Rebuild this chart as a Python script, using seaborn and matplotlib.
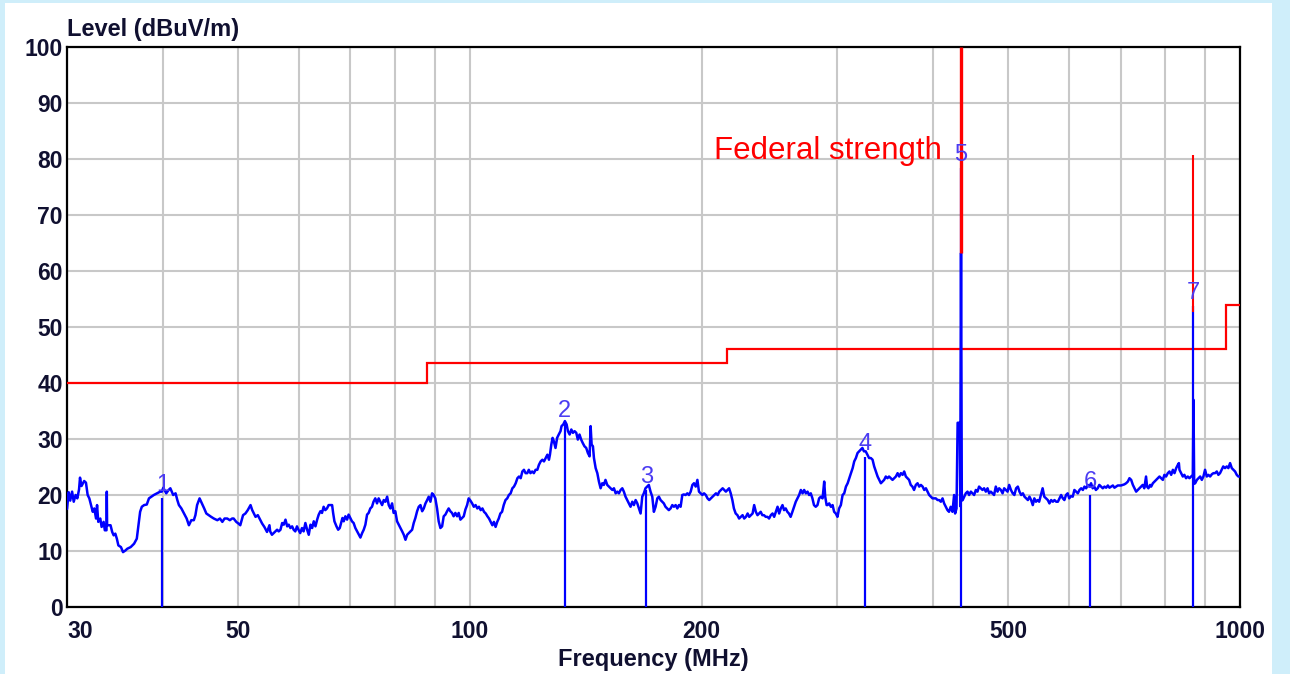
import matplotlib
matplotlib.use("Agg")
import matplotlib.pyplot as plt
import matplotlib.ticker as mticker
from matplotlib.patches import Rectangle
import seaborn as sns
import pandas as pd

# ---- data ----
trace_freq = [
    30.0, 30.15, 30.29, 30.46, 30.61, 30.78, 30.94, 31.10, 31.19, 31.33, 31.58, 31.75, 31.91, 32.07,
    32.23, 32.40, 32.55, 32.72, 32.82, 32.94, 33.14, 33.27, 33.47, 33.59, 33.76, 33.79, 33.82, 33.91,
    34.17, 34.34, 34.49, 34.66, 34.82, 34.98, 35.25, 35.47, 35.73, 35.92, 36.29, 36.66, 36.96, 37.15,
    37.33, 37.52, 37.78, 38.08, 38.33, 38.60, 38.89, 39.27, 39.64, 39.83, 40.01, 40.36, 40.65, 40.86,
    41.21, 41.50, 41.72, 41.92, 42.23, 42.56, 42.90, 43.19, 43.50, 43.83, 44.04, 44.26, 44.59, 44.90,
    45.21, 45.50, 45.82, 46.16, 46.53, 47.02, 47.39, 47.73, 48.05, 48.44, 48.81, 49.15, 49.37, 49.76,
    50.09, 50.36, 50.78, 51.14, 51.50, 51.93, 52.19, 52.44, 52.71, 53.07, 53.49, 53.76, 54.12, 54.55,
    54.95, 55.07, 55.36, 55.64, 55.93, 56.22, 56.49, 56.79, 57.08, 57.35, 57.65, 57.94, 58.21, 58.50,
    58.80, 59.07, 59.36, 59.66, 59.93, 60.24, 60.56, 60.86, 61.18, 61.50, 61.80, 62.12, 62.43, 62.73,
    63.05, 63.37, 63.67, 63.99, 64.30, 64.61, 64.93, 65.26, 65.58, 65.93, 66.27, 66.47, 66.73, 67.14,
    67.48, 67.80, 68.08, 68.35, 68.61, 68.95, 69.30, 69.62, 69.96, 70.32, 70.67, 71.04, 71.41, 71.76,
    72.12, 72.49, 72.84, 73.20, 73.57, 73.92, 74.29, 74.66, 75.00, 75.40, 75.79, 76.16, 76.56, 76.95,
    77.33, 77.72, 78.12, 78.49, 78.88, 79.28, 79.65, 80.05, 80.47, 80.87, 81.29, 81.71, 82.10, 82.52,
    82.94, 83.34, 83.76, 84.18, 84.58, 85.00, 85.44, 85.86, 86.30, 86.74, 87.16, 87.60, 88.05, 88.46,
    88.91, 89.35, 89.77, 90.22, 90.69, 91.13, 91.60, 92.07, 92.51, 92.98, 93.45, 93.89, 94.36, 94.83,
    95.29, 95.79, 96.29, 96.75, 97.25, 97.75, 98.22, 98.71, 99.21, 99.68, 100.19, 100.72, 101.22,
    101.76, 102.29, 102.79, 103.32, 103.86, 104.36, 104.89, 105.42, 105.93, 106.46, 106.99, 107.49,
    108.03, 108.56, 109.06, 109.59, 110.14, 110.69, 111.28, 111.86, 112.41, 113.00, 113.59, 114.14,
    114.72, 115.31, 115.86, 116.45, 117.03, 117.59, 118.17, 118.76, 119.31, 119.90, 120.52, 121.12,
    121.75, 122.39, 122.98, 123.62, 124.25, 124.85, 125.48, 126.12, 126.72, 127.09, 127.61, 128.10,
    128.58, 129.22, 129.85, 130.48, 131.17, 131.57, 132.26, 132.90, 133.59, 134.11, 134.80, 135.48,
    136.13, 136.81, 137.50, 138.14, 138.83, 139.52, 140.17, 140.91, 141.65, 142.35, 143.09, 143.52,
    143.96, 144.52, 144.96, 145.70, 146.43, 147.13, 147.87, 148.61, 149.30, 150.05, 150.83, 151.57,
    152.36, 153.15, 153.89, 154.68, 155.46, 156.20, 156.99, 157.78, 158.52, 159.31, 160.10, 160.89,
    161.72, 162.56, 163.35, 164.19, 165.02, 165.81, 166.65, 167.48, 168.27, 169.11, 169.95, 170.79,
    171.68, 172.57, 173.40, 174.29, 175.18, 176.02, 176.91, 177.80, 178.64, 179.53, 180.44, 181.33,
    182.28, 183.22, 184.11, 185.06, 186.00, 186.89, 187.83, 188.78, 189.67, 190.64, 191.64, 192.57,
    193.57, 194.56, 195.50, 196.49, 197.49, 198.42, 199.42, 200.44, 201.44, 202.51, 203.57, 204.58,
    205.64, 206.71, 207.71, 208.78, 209.84, 210.85, 211.91, 212.98, 213.98, 215.05, 216.11, 217.12,
    218.18, 219.25, 220.27, 221.44, 222.61, 223.71, 224.88, 226.05, 227.15, 228.32, 229.49, 230.58,
    231.75, 232.92, 234.02, 235.19, 236.36, 237.46, 238.63, 239.79, 240.97, 242.24, 243.51, 244.70,
    245.97, 247.24, 248.43, 249.70, 250.97, 252.16, 253.43, 254.70, 255.89, 257.16, 258.43, 259.63,
    260.97, 262.35, 263.64, 265.02, 266.40, 267.69, 269.07, 270.45, 271.74, 273.12, 274.49, 275.79,
    277.17, 278.54, 279.84, 281.30, 282.78, 284.17, 285.65, 287.13, 288.52, 289.39, 290.61, 291.48,
    292.87, 294.35, 295.83, 297.22, 298.70, 300.19, 301.67, 303.25, 304.83, 306.32, 307.90, 309.48,
    310.97, 312.55, 314.13, 315.61, 317.19, 318.77, 320.26, 321.84, 323.42, 324.91, 326.62, 328.34,
    329.96, 331.68, 333.40, 335.02, 336.74, 338.46, 340.08, 341.80, 343.52, 345.14, 346.86, 348.58,
    350.22, 352.06, 353.90, 355.63, 357.47, 359.31, 361.04, 362.88, 364.72, 366.45, 368.29, 370.13,
    371.86, 373.70, 375.58, 377.44, 379.42, 381.40, 383.26, 385.23, 387.21, 389.07, 391.05, 393.03,
    394.89, 396.86, 398.84, 400.73, 402.80, 404.88, 406.83, 408.90, 410.98, 412.93, 415.00, 417.07,
    419.02, 421.16, 423.35, 425.42, 426.71, 428.51, 429.93, 432.77, 433.29, 434.32, 435.35, 436.51,
    438.58, 440.54, 442.82, 444.97, 447.25, 449.53, 451.68, 453.96, 456.24, 458.39, 460.70, 463.10,
    465.35, 467.74, 470.14, 472.39, 474.79, 477.18, 479.44, 481.91, 484.41, 486.76, 489.26, 491.76,
    494.12, 496.62, 499.12, 501.57, 504.23, 506.89, 509.40, 512.07, 514.73, 517.24, 519.90, 522.57,
    525.07, 527.74, 530.40, 532.91, 535.57, 538.24, 540.74, 543.41, 546.07, 548.59, 551.38, 554.31,
    557.07, 560.00, 562.93, 565.69, 568.62, 571.55, 574.31, 577.24, 580.17, 582.93, 585.86, 588.79,
    591.55, 594.48, 597.41, 600.19, 603.36, 606.53, 609.52, 612.69, 615.86, 618.85, 622.02, 625.19,
    628.18, 631.35, 634.52, 637.51, 640.68, 643.85, 646.84, 650.00, 653.44, 656.68, 660.12, 663.56,
    666.80, 670.24, 673.68, 676.92, 680.36, 683.81, 687.04, 690.48, 693.93, 700.65, 704.33, 707.79,
    711.47, 715.15, 718.61, 722.30, 725.98, 729.44, 733.12, 736.80, 740.27, 743.95, 747.63, 751.16,
    755.12, 757.44, 760.47, 764.42, 766.75, 770.70, 774.42, 778.38, 782.33, 786.05, 790.00, 793.96,
    797.67, 801.72, 805.91, 809.85, 814.04, 818.23, 822.17, 826.35, 830.54, 833.00, 834.48, 838.67,
    842.85, 846.80, 851.05, 855.50, 859.69, 864.14, 868.59, 870.16, 872.00, 874.61, 879.06, 883.25,
    887.70, 892.15, 896.34, 900.82, 905.49, 909.89, 914.56, 919.23, 923.62, 928.29, 932.96, 937.36,
    942.03, 946.70, 951.17, 956.14, 961.11, 965.79, 970.76, 975.73, 980.41, 985.38, 990.35, 995.03,
    1000.0,
]
trace_level = [
    17.5, 20.5, 19.0, 20.6, 18.8, 20.0, 19.4, 21.0, 23.1, 21.6, 22.5, 22.2, 20.0, 19.4,
    18.2, 17.0, 17.6, 15.8, 18.2, 15.2, 15.8, 14.3, 15.2, 13.7, 13.7, 20.6, 14.6, 14.6,
    14.6, 13.4, 12.8, 13.1, 12.2, 11.0, 10.7, 9.8, 10.1, 10.4, 10.7, 11.3, 12.2, 14.6,
    17.0, 17.9, 18.2, 18.3, 19.4, 19.7, 20.0, 20.3, 20.6, 20.6, 21.3, 20.3, 20.9, 21.2,
    20.0, 20.3, 19.1, 18.2, 17.6, 16.7, 15.8, 14.6, 15.5, 15.5, 16.4, 18.2, 19.4, 18.5,
    17.6, 16.7, 16.4, 16.1, 15.8, 15.5, 15.8, 15.2, 15.8, 15.8, 15.5, 15.8, 15.8, 15.2,
    14.9, 14.6, 16.4, 16.7, 17.3, 18.2, 17.3, 16.7, 16.1, 16.4, 15.5, 14.9, 14.3, 13.4,
    14.6, 13.5, 12.9, 13.2, 13.5, 13.8, 13.5, 13.8, 15.0, 14.7, 15.6, 14.4, 14.7, 14.1,
    14.4, 13.8, 13.5, 14.4, 13.8, 13.2, 14.1, 13.5, 15.0, 13.8, 12.9, 14.7, 14.1, 15.3,
    14.4, 15.6, 16.5, 17.1, 16.8, 17.9, 17.3, 17.6, 18.2, 18.2, 18.2, 16.8, 15.3, 14.4,
    13.8, 14.1, 15.0, 15.9, 15.3, 16.2, 15.6, 16.5, 15.9, 15.3, 15.0, 14.1, 13.5, 12.9,
    12.4, 13.2, 13.8, 14.7, 16.5, 16.8, 17.6, 17.9, 18.8, 19.4, 18.5, 19.4, 18.8, 18.2,
    19.1, 18.8, 19.7, 18.2, 17.6, 18.5, 16.8, 17.1, 15.3, 14.7, 14.1, 13.5, 12.9, 12.0,
    12.9, 13.2, 13.5, 13.8, 15.0, 15.9, 17.1, 17.9, 18.2, 17.1, 17.6, 18.5, 19.1, 19.7,
    18.8, 20.3, 20.0, 19.4, 17.6, 15.3, 14.1, 14.4, 16.2, 16.5, 17.1, 17.6, 17.1, 16.8,
    16.2, 16.8, 16.2, 16.8, 15.6, 15.9, 16.2, 17.4, 18.2, 19.4, 19.0, 18.5, 17.9,
    18.2, 17.6, 17.9, 17.3, 17.6, 17.0, 16.7, 16.2, 15.8, 15.2, 14.6, 15.2,
    14.3, 15.2, 15.8, 16.7, 17.0, 18.2, 19.1, 19.4, 20.0, 20.3, 21.2, 21.5,
    22.1, 23.0, 23.3, 23.0, 24.2, 24.5, 23.9, 23.9, 24.5, 23.9, 24.2, 23.9,
    24.5, 24.5, 25.4, 26.0, 26.3, 26.0, 26.6, 27.2, 26.3, 27.2, 29.0, 30.2,
    29.6, 28.4, 30.2, 30.8, 31.4, 32.3, 32.6, 33.2, 32.6, 31.4, 30.8, 31.7,
    31.1, 31.4, 31.1, 29.9, 30.8, 29.9, 29.3, 28.7, 28.4, 27.5, 26.9, 32.3,
    29.0, 28.7, 26.6, 24.8, 23.9, 22.4, 21.2, 22.1, 21.8, 22.7, 21.8, 21.5,
    21.2, 20.9, 21.2, 20.3, 20.6, 20.3, 20.9, 21.2, 20.6, 19.7, 19.1, 18.5,
    17.9, 18.8, 18.2, 19.1, 18.5, 17.6, 16.7, 19.7, 20.3, 21.2, 21.5, 21.8,
    20.6, 19.7, 17.0, 17.9, 19.4, 19.7, 19.1, 18.8, 18.5, 17.9, 17.6, 17.3,
    17.6, 18.2, 17.9, 18.2, 17.6, 18.2, 17.9, 20.0, 20.1, 20.0, 20.3, 20.0,
    20.6, 21.8, 22.1, 21.5, 22.7, 20.6, 20.3, 20.0, 20.3, 20.0, 19.4, 19.1,
    19.4, 19.7, 20.0, 20.3, 20.0, 20.6, 20.9, 21.2, 20.9, 20.6, 20.9, 21.2,
    20.3, 19.1, 17.6, 16.7, 16.4, 15.8, 16.1, 16.4, 15.8, 16.1, 16.7, 16.1,
    16.4, 16.7, 18.2, 17.0, 16.4, 16.7, 17.0, 16.4, 16.4, 16.1, 16.1, 15.8,
    16.4, 16.7, 16.1, 17.0, 17.9, 16.7, 17.6, 18.2, 17.3, 17.6, 17.0, 16.7,
    16.1, 17.0, 17.9, 18.8, 19.4, 20.0, 20.9, 20.3, 20.9, 20.3, 20.6, 20.0,
    20.3, 19.4, 18.2, 17.9, 18.2, 19.4, 19.7, 19.4, 22.4, 19.7, 18.2, 18.2,
    18.5, 17.9, 18.2, 17.0, 16.7, 16.1, 17.6, 18.2, 20.0, 20.3, 21.5, 22.1,
    23.0, 23.9, 24.8, 26.0, 26.6, 27.5, 27.8, 28.1, 28.4, 27.8, 27.8, 27.2,
    26.6, 26.6, 26.3, 25.1, 24.2, 23.3, 22.7, 22.1, 22.4, 22.7, 23.3, 23.0,
    23.3, 23.0, 22.7, 23.0, 23.3, 23.9, 23.3, 23.9, 23.6, 24.2, 23.3, 23.0,
    22.7, 21.8, 21.5, 20.9, 21.8, 22.1, 21.5, 21.8, 21.5, 20.9, 21.2, 20.6,
    20.0, 19.7, 19.4, 19.4, 19.4, 19.1, 19.1, 18.8, 19.4, 18.5, 17.9, 17.3,
    17.0, 17.9, 17.0, 20.0, 16.7, 17.6, 32.9, 32.9, 18.0, 63.2, 19.0, 19.1,
    19.7, 20.3, 20.6, 20.0, 20.6, 20.3, 20.0, 20.9, 20.6, 21.5, 21.2, 20.9,
    21.2, 20.6, 21.2, 20.3, 20.6, 20.3, 20.0, 21.5, 20.6, 21.2, 20.9, 20.3,
    21.2, 20.9, 20.6, 21.8, 20.9, 20.3, 20.0, 21.2, 21.5, 20.6, 20.0, 20.3,
    19.7, 19.4, 19.1, 19.7, 19.1, 18.2, 19.4, 18.8, 19.1, 18.8, 20.0, 21.2,
    19.7, 19.4, 19.1, 18.5, 19.1, 18.8, 19.1, 18.8, 18.8, 19.4, 20.0, 19.4,
    19.1, 20.0, 20.3, 19.4, 19.8, 19.7, 20.9, 20.6, 20.3, 20.9, 21.2, 20.9,
    21.5, 21.2, 21.8, 21.5, 22.1, 21.2, 21.5, 20.9, 21.2, 21.8, 21.5, 21.2,
    21.5, 21.3, 21.7, 21.3, 21.5, 21.7, 21.3, 21.5, 21.7, 21.7, 21.8, 21.9,
    22.1, 22.4, 23.0, 22.7, 21.8, 21.2, 20.6, 20.9, 21.2, 21.5, 21.8, 21.2,
    23.3, 21.5, 21.2, 21.8, 21.5, 22.1, 22.4, 22.7, 23.0, 23.3, 23.0, 22.7,
    23.6, 23.3, 23.9, 24.2, 23.6, 24.5, 23.9, 24.8, 25.4, 25.7, 24.5, 23.9,
    23.3, 23.6, 23.0, 23.3, 23.0, 23.3, 23.6, 37.0, 22.0, 22.1, 22.7, 23.0,
    23.3, 22.7, 23.3, 24.5, 23.3, 23.6, 23.3, 23.7, 23.9, 23.9, 24.2, 23.6,
    23.9, 24.5, 25.1, 24.8, 25.1, 24.8, 25.7, 24.8, 24.5, 24.2, 23.6, 23.3,
    23.3,
]

limit_edges = [30, 88, 216, 960, 1000]
limit_levels = [40, 43.5, 46, 54]

marker_ids = ["1", "2", "3", "4", "5", "6", "7"]
marker_freq = [39.9, 132.9, 169.6, 325.9, 434.3, 639.4, 870.2]
marker_level = [19.5, 32.7, 20.9, 26.8, 78.4, 20.0, 53.8]

spike_freq = [434.3, 870.2]
spike_low = [63.2, 52.7]
spike_high = [100, 80.7]
spike_width = [2.4, 1.5]

x_major = [30, 50, 100, 200, 500, 1000]
x_minor = [40, 60, 70, 80, 90, 300, 400, 600, 700, 800, 900]
y_ticks = list(range(0, 101, 10))

df = pd.DataFrame({"freq": trace_freq, "level": trace_level})

sns.set_style("white")
plt.rcParams['font.family'] = ['Liberation Sans', 'DejaVu Sans']

fig = plt.figure(figsize=(12.9, 6.74), dpi=100, facecolor="#cfeefa")
fig.patches.append(Rectangle((5 / 1290, 0), 1267 / 1290, 671 / 674, transform=fig.transFigure,
                             facecolor="white", edgecolor="none", zorder=-10))
ax = fig.add_axes([67 / 1290, 67 / 674, 1173 / 1290, 560 / 674])
ax.set_facecolor("white")

ax.set_xscale("log")
ax.set_xlim(30, 1000)
ax.set_ylim(0, 100)

# grid
ax.xaxis.set_major_locator(mticker.FixedLocator(x_major))
ax.xaxis.set_major_formatter(mticker.FixedFormatter([str(v) for v in x_major]))
ax.xaxis.set_minor_locator(mticker.FixedLocator(x_minor))
ax.xaxis.set_minor_formatter(mticker.NullFormatter())
ax.set_yticks(y_ticks)
ax.grid(True, which="both", color="#c8c8c8", lw=1.5, zorder=0)
ax.set_axisbelow(True)
ax.tick_params(which="both", length=0)
ax.tick_params(axis="y", pad=3, labelsize=16.5, labelcolor="#101030")
ax.tick_params(axis="x", pad=9, labelsize=16.5, labelcolor="#101030")
for lab in ax.get_xticklabels() + ax.get_yticklabels():
    lab.set_fontweight("bold")
plt.setp(ax.get_xticklabels()[0], ha="left")

for s in ax.spines.values():
    s.set_color("black")
    s.set_linewidth(1.6)
    s.set_visible(True)

# limit line
ax.stairs(limit_levels, limit_edges, baseline=None, color="#ff0000", lw=1.6, zorder=3)

# marker lines
ax.vlines(marker_freq, 0, marker_level, color="#0000ff", lw=1.6, zorder=4)

# measured trace
sns.lineplot(data=df, x="freq", y="level", sort=False, estimator=None, color="#0000ff",
             lw=1.8, ax=ax, zorder=5)

# red spikes over markers 5 and 7
for f, lo, hi, w in zip(spike_freq, spike_low, spike_high, spike_width):
    ax.vlines(f, lo, hi, color="#ff0000", lw=w, zorder=6)

# marker numbers
for m, f, lv in zip(marker_ids, marker_freq, marker_level):
    ax.text(f, lv + 0.3, m, color="#4b3cf2", fontsize=17, ha="center", va="bottom", zorder=7)

ax.text(207.5, 80, "Federal strength", color="#ff0000", fontsize=22.5, ha="left",
        va="baseline", zorder=7)

ax.set_xlabel("Frequency (MHz)", fontsize=17, fontweight="bold", color="#101030", labelpad=4)
ax.set_ylabel("")
ax.text(0.0, 1.01, "Level (dBuV/m)", transform=ax.transAxes, fontsize=17, fontweight="bold",
        color="#101030", ha="left", va="bottom")

fig.savefig("out.png", dpi=100, facecolor=fig.get_facecolor())
